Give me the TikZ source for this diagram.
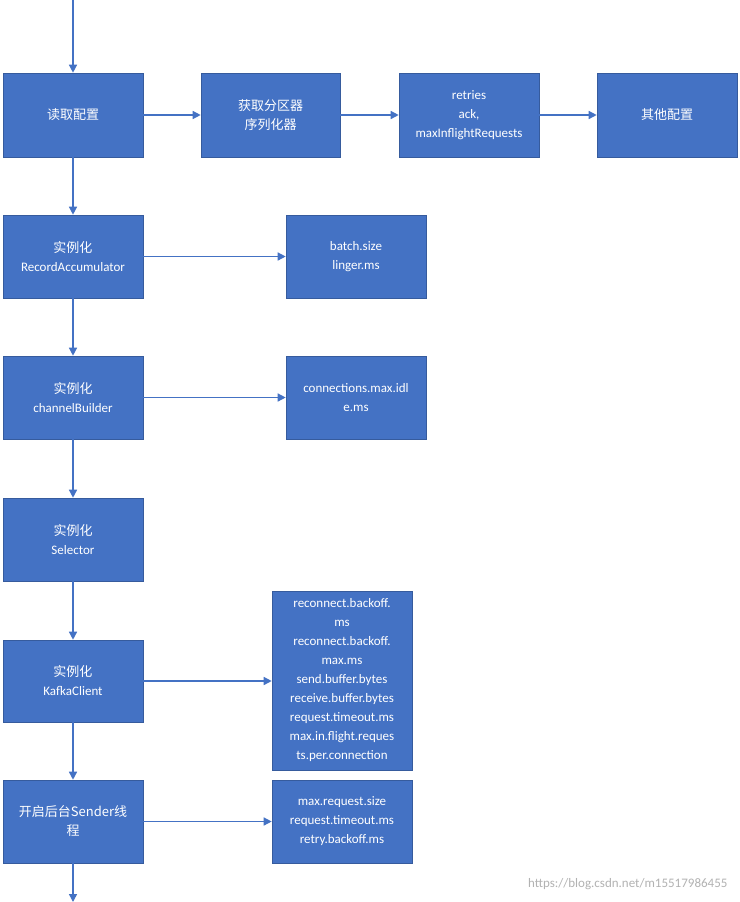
\documentclass[tikz,border=0pt]{standalone}
\usepackage{fontspec}
\setmainfont{Carlito}
\newfontfamily\cjk{Noto Sans CJK SC}
\usetikzlibrary{arrows.meta}
\definecolor{bx}{HTML}{4472C4}
\begin{document}
\begin{tikzpicture}[x=1pt,y=-1pt,
  box/.style={fill=bx,draw=bx!80!black,line width=0.6pt,text=white,align=center,font=\fontsize{13}{19}\selectfont,inner sep=2pt},
  ar/.style={draw=bx,line width=1.4pt,-{Triangle[length=8pt,width=8pt]}}]
\useasboundingbox (0,0) rectangle (739,902);
\fill[white] (0,0) rectangle (739,902);
\newcommand{\bbox}[6]{\node[box,minimum width=#3-#1,minimum height=#4-#2] (#5) at ({(#1+#3)/2},{(#2+#4)/2}) {#6};}
\bbox{3}{73}{143}{157}{a}{\cjk 读取配置}
\bbox{201}{73}{340}{157}{b}{\cjk 获取分区器\\\cjk 序列化器}
\bbox{399}{73}{539}{157}{c}{retries\\ack,\\maxInflightRequests}
\bbox{597}{73}{737}{157}{d}{\cjk 其他配置}
\bbox{3}{215}{143}{298}{e}{{\cjk 实例化}\\RecordAccumulator}
\bbox{286}{215}{426}{298}{f}{batch.size\\linger.ms}
\bbox{3}{356}{143}{439}{g}{{\cjk 实例化}\\channelBuilder}
\bbox{286}{356}{426}{439}{h}{connections.max.idl\\e.ms}
\bbox{3}{498}{143}{581}{i}{{\cjk 实例化}\\Selector}
\bbox{3}{640}{143}{722}{j}{{\cjk 实例化}\\KafkaClient}
\bbox{272}{591}{412}{770}{k}{reconnect.backoff.\\ms\\reconnect.backoff.\\max.ms\\send.buffer.bytes\\receive.buffer.bytes\\request.timeout.ms\\max.in.flight.reques\\ts.per.connection}
\bbox{3}{780}{143}{863}{l}{{\cjk 开启后台Sender线}\\\cjk 程}
\bbox{272}{780}{412}{863}{m}{max.request.size\\request.timeout.ms\\retry.backoff.ms}
\coordinate (top) at (73,0);
\coordinate (bot) at (73,902);
\draw[ar] (top) -- (a.north);
\draw[ar] (a) -- (b); \draw[ar] (b) -- (c); \draw[ar] (c) -- (d);
\draw[ar] (a) -- (e); \draw[ar] (e) -- (g); \draw[ar] (g) -- (i);
\draw[ar] (i) -- (j); \draw[ar] (j) -- (l); \draw[ar] (l.south) -- (bot);
\draw[ar] (e) -- (f); \draw[ar] (g) -- (h);
\draw[ar] (j.east) -- (k.west|-j.east); \draw[ar] (l) -- (m);
\node[text=gray!60,font=\fontsize{13}{15}\selectfont,anchor=east] (w) at (731,884) {https://blog.csdn.net/m15517986455};
\end{tikzpicture}
\end{document}
